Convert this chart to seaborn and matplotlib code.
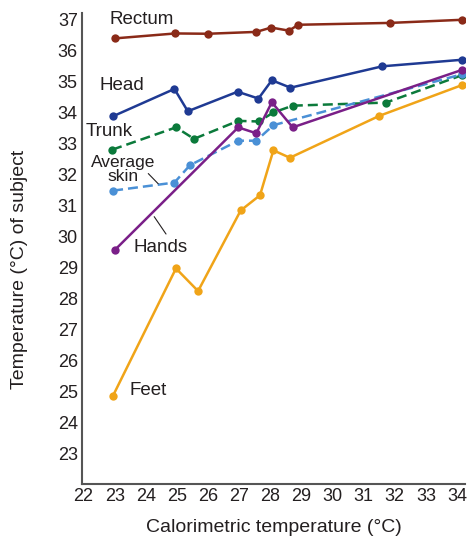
import matplotlib
matplotlib.use("Agg")
import matplotlib.pyplot as plt
import seaborn as sns

# calorimetric temperature (x) and subject temperatures per body site
rectum_x = [23.0, 24.95, 26.0, 27.55, 28.03, 28.6, 28.9, 31.85, 34.15]
rectum_y = [36.38, 36.54, 36.53, 36.59, 36.73, 36.63, 36.82, 36.88, 36.98]

head_x = [22.95, 24.92, 25.35, 26.95, 27.62, 28.05, 28.65, 31.6, 34.15]
head_y = [33.87, 34.75, 34.03, 34.66, 34.44, 35.03, 34.79, 35.48, 35.69]

trunk_x = [22.92, 24.97, 25.55, 26.97, 27.63, 28.1, 28.72, 31.72, 34.15]
trunk_y = [32.79, 33.51, 33.14, 33.72, 33.70, 33.99, 34.21, 34.31, 35.19]

skin_x = [22.95, 24.92, 25.42, 26.97, 27.55, 28.1, 34.15]
skin_y = [31.47, 31.73, 32.29, 33.08, 33.08, 33.58, 35.22]

hands_x = [23.0, 26.97, 27.55, 28.05, 28.72, 34.15]
hands_y = [29.55, 33.51, 33.32, 34.32, 33.51, 35.36]

feet_x = [22.95, 24.97, 25.68, 27.05, 27.67, 28.1, 28.63, 31.5, 34.15]
feet_y = [24.86, 28.96, 28.23, 30.83, 31.32, 32.77, 32.53, 33.88, 34.87]

x_ticks = list(range(22, 35))
y_ticks = list(range(23, 38))

sns.set_style("white")
plt.rcParams["font.family"] = ["Liberation Sans", "DejaVu Sans"]
txt = "#231f20"

fig = plt.figure(figsize=(4.72, 5.41), dpi=100)
ax = fig.add_axes([0.1737, 0.105, 0.811, 0.871])

series = [
    (rectum_x, rectum_y, "#8a2a18", "-"),
    (head_x, head_y, "#1f3a93", "-"),
    (trunk_x, trunk_y, "#0b7a3b", (0, (4, 2))),
    (skin_x, skin_y, "#4a90d6", (0, (4, 2))),
    (hands_x, hands_y, "#7a1f88", "-"),
    (feet_x, feet_y, "#f0a418", "-"),
]
for xs, ys, c, ls in series:
    sns.lineplot(x=xs, y=ys, ax=ax, color=c, linestyle=ls, linewidth=1.8,
                 marker="o", markersize=6, markeredgewidth=0, sort=False)

fs = 13.5
ax.text(22.85, 37.0, "Rectum", fontsize=fs, color=txt, va="center", ha="left")
ax.text(22.5, 34.85, "Head", fontsize=fs, color=txt, va="center", ha="left")
ax.text(22.07, 33.37, "Trunk", fontsize=fs, color=txt, va="center", ha="left")
ax.text(23.27, 32.15, "Average\nskin", fontsize=12.5, color=txt, va="center",
        ha="center", linespacing=0.95)
ax.plot([24.08, 24.40], [32.02, 31.69], color=txt, lw=0.8)
ax.text(23.62, 29.65, "Hands", fontsize=fs, color=txt, va="center", ha="left")
ax.plot([24.27, 24.65], [30.63, 30.07], color=txt, lw=0.8)
ax.text(23.47, 25.01, "Feet", fontsize=fs, color=txt, va="center", ha="left")

ax.set_xlim(21.95, 34.25)
ax.set_ylim(22.0, 37.2)
ax.set_xticks(x_ticks)
ax.set_yticks(y_ticks)
ax.tick_params(direction="in", length=5, width=1.2, colors="#555555",
               labelcolor=txt, labelsize=13, pad=3)
sns.despine(ax=ax)
for s in ["left", "bottom"]:
    ax.spines[s].set_color("#555555")
    ax.spines[s].set_linewidth(1.5)

ax.set_xlabel("Calorimetric temperature (°C)", fontsize=14, color=txt, labelpad=10)
ax.set_ylabel("Temperature (°C) of subject", fontsize=14, color=txt)
ax.yaxis.set_label_coords(-0.14, 0.455)

fig.savefig("out.png", dpi=100)
